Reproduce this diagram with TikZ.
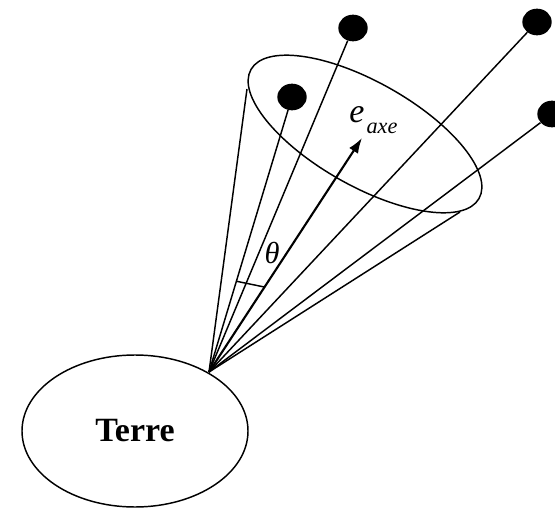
\documentclass[tikz,border=0pt]{standalone}
\usepackage{fontspec}
\setmainfont{Liberation Serif}
\usetikzlibrary{shapes.geometric,arrows.meta,calc}
\begin{document}
\begin{tikzpicture}[x=0.03cm,y=-0.03cm,
  line/.style={line width=1.25pt,black},
  dot/.style={ellipse,fill=black,inner sep=0pt,minimum width=0.88cm,minimum height=0.8cm},
  lbl/.style={inner sep=0pt,font=\itshape}]
\path[use as bounding box] (0,0) rectangle (555,509);
% Earth
\node[ellipse,draw,line width=1.25pt,minimum width=6.78cm,minimum height=4.56cm,
  font=\bfseries\fontsize{29}{34}\selectfont] (earth) at (135,431) {Terre};
\coordinate (apex) at (209,372);
% cone
\draw[line,rotate around={-29.5:(365,134)}] (365,134) ellipse [x radius=3.93cm, y radius=1.56cm];
\coordinate (cl) at (247,89);
\coordinate (cr) at (460,212);
\draw[line] (apex) -- (cl);
\draw[line] (apex) -- (cr);
% dots
\node[dot] (d1) at (353,28) {};
\node[dot] (d2) at (537,22) {};
\node[dot] (d3) at (292,97) {};
\node[dot] (d4) at (552,114) {};
\draw[line] (apex) -- (d1);
\draw[line] (apex) -- (d2);
\draw[line] (apex) -- (d3);
\draw[line] (apex) -- (d4);
% axis
\coordinate (tip) at (362,138);
\draw[line width=1.8pt,-{Latex[length=13pt,width=9pt]}] (apex) -- (tip);
% theta marker
\coordinate (m1) at ($(apex)!0.33!(d3)$);
\coordinate (m2) at ($(apex)!0.363!(tip)$);
\draw[line] (m1) -- (m2);
\node[lbl,font=\itshape\fontsize{26}{30}\selectfont] (theta) at (272,253) {θ};
\node[lbl,font=\itshape\fontsize{29}{33}\selectfont] (e) at (357,115) {e};
\node[lbl,font=\itshape\fontsize{19}{23}\selectfont] (axe) at (382,128) {axe};
\end{tikzpicture}
\end{document}
